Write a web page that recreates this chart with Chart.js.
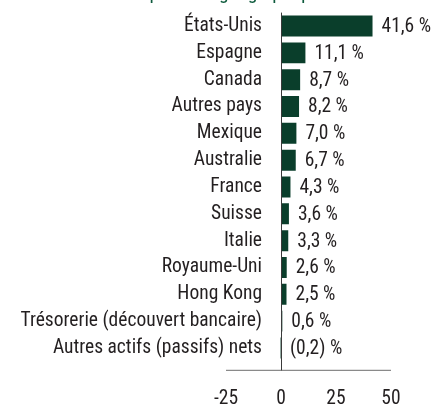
<!DOCTYPE html>
<html><head><meta charset="utf-8">
<script src="https://cdn.jsdelivr.net/npm/chart.js@4"></script>
<style>html,body{margin:0;padding:0;background:#fff;overflow:hidden;} canvas{display:block;}</style>
</head><body>
<canvas id="c" width="439" height="405"></canvas>
<script>
const categories = ['États-Unis','Espagne','Canada','Autres pays','Mexique','Australie','France','Suisse','Italie','Royaume-Uni','Hong Kong','Trésorerie (découvert bancaire)','Autres actifs (passifs) nets'];
const values = [41.6, 11.1, 8.7, 8.2, 7.0, 6.7, 4.3, 3.6, 3.3, 2.6, 2.5, 0.6, -0.2];
const xTicks = [-25, 0, 25, 50];
const titleText = 'Répartition géographique';

const FONT = "'Roboto Condensed', 'Liberation Sans', sans-serif";
const FS = 19.5;
const BAR = '#0a3e2b';
const TXT = '#231f20';

// widest category label, so the mirrored y labels can be right-aligned next to the zero line
const mctx = document.createElement('canvas').getContext('2d');
mctx.font = 'normal normal ' + FS + 'px ' + FONT;
const widest = Math.max(...categories.map(c => mctx.measureText(c).width));

function fmt(v) {
  const s = Math.abs(v).toFixed(1).replace('.', ',');
  return v < 0 ? '(' + s + ') %' : s + ' %';
}

const deco = {
  id: 'deco',
  afterDatasetsDraw(chart) {
    const {ctx, scales: {x, y}, chartArea} = chart;
    const x0 = x.getPixelForValue(0);
    const axisY = chartArea.bottom + 9;
    ctx.save();
    // horizontal axis line
    ctx.strokeStyle = '#8a8a8a';
    ctx.lineWidth = 1.3;
    ctx.beginPath();
    ctx.moveTo(x.getPixelForValue(xTicks[0]), axisY);
    ctx.lineTo(x.getPixelForValue(xTicks[xTicks.length - 1]), axisY);
    ctx.stroke();
    // zero line
    ctx.strokeStyle = '#3a3a3a';
    ctx.lineWidth = 1;
    ctx.beginPath();
    ctx.moveTo(x0 + 0.5, chartArea.top);
    ctx.lineTo(x0 + 0.5, axisY);
    ctx.stroke();
    // value labels
    ctx.font = FS + 'px ' + FONT;
    ctx.fillStyle = TXT;
    ctx.textAlign = 'left';
    ctx.textBaseline = 'middle';
    const meta = chart.getDatasetMeta(0);
    meta.data.forEach((bar, i) => {
      const xe = Math.max(bar.x, x0);
      ctx.fillText(fmt(values[i]), xe + 9, bar.y + 1);
    });
    // title (mostly cut off at the top)
    ctx.fillStyle = '#0d5a3c';
    ctx.textAlign = 'center';
    ctx.textBaseline = 'alphabetic';
    ctx.fillText(titleText, 227, -1);
    ctx.restore();
  }
};

new Chart(document.getElementById('c'), {
  type: 'bar',
  data: {
    labels: categories,
    datasets: [{
      data: values,
      backgroundColor: BAR,
      borderWidth: 0,
      barPercentage: 0.78,
      categoryPercentage: 1
    }]
  },
  options: {
    indexAxis: 'y',
    responsive: false,
    animation: false,
    devicePixelRatio: 1,
    layout: {padding: {left: 0, right: 48, top: 12.6, bottom: 0}},
    plugins: {legend: {display: false}, tooltip: {enabled: false}, title: {display: false}},
    scales: {
      x: {
        type: 'linear',
        min: xTicks[0],
        max: xTicks[xTicks.length - 1],
        afterBuildTicks: s => { s.ticks = xTicks.map(v => ({value: v})); },
        afterFit: s => { s.height = 43.6; },
        grid: {display: false, drawTicks: false},
        border: {display: false},
        ticks: {
          padding: 26,
          color: TXT,
          font: {family: FONT, size: FS},
          callback: v => String(v)
        }
      },
      y: {
        type: 'category',
        position: 'left',
        afterFit: s => { s.width = 226; },
        grid: {display: false, drawTicks: false},
        border: {display: false},
        ticks: {
          mirror: true,
          crossAlign: 'far',
          padding: 36 - widest,
          color: TXT,
          autoSkip: false,
          font: {family: FONT, size: FS}
        }
      }
    }
  },
  plugins: [deco]
});
</script>
</body></html>
